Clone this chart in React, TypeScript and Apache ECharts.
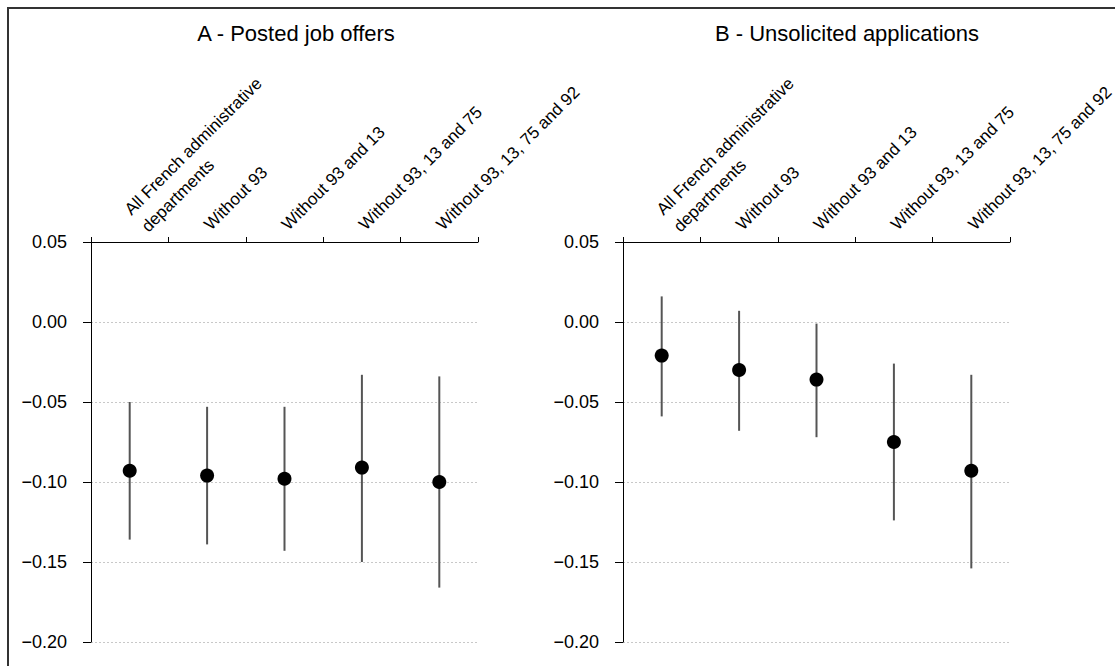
import React, { useEffect, useRef } from "react";
import * as echarts from "echarts";

const categories = [
  "All French administrative\ndepartments",
  "Without 93",
  "Without 93 and 13",
  "Without 93, 13 and 75",
  "Without 93, 13, 75 and 92",
];
const panelTitles = ["A - Posted job offers", "B - Unsolicited applications"];
const yTicks = [-0.2, -0.15, -0.1, -0.05, 0, 0.05];

const offersEst = [-0.093, -0.096, -0.098, -0.091, -0.1];
const offersLow = [-0.136, -0.139, -0.143, -0.15, -0.166];
const offersHigh = [-0.05, -0.053, -0.053, -0.033, -0.034];

const unsolEst = [-0.021, -0.03, -0.036, -0.075, -0.093];
const unsolLow = [-0.059, -0.068, -0.072, -0.124, -0.154];
const unsolHigh = [0.016, 0.007, -0.001, -0.026, -0.033];

const FONT = "'Liberation Sans', Arial, Helvetica, sans-serif";

export default function App() {
  const ref = useRef<HTMLDivElement>(null);
  useEffect(() => {
    if (!ref.current) return;
    const chart = echarts.init(ref.current, null, { renderer: "svg" });

    const gridLefts = [91, 623];
    const plotW = 387;
    const grids = gridLefts.map((l) => ({
      left: l,
      top: 242,
      width: plotW,
      height: 400,
      containLabel: false,
      outerBoundsMode: "none",
    }));

    const catData = categories.map((c) =>
      c.includes("\n")
        ? { value: c, textStyle: { padding: [6, 0, 0, 9] } }
        : { value: c }
    );

    const xAxes = grids.map((_, i) => ({
      type: "category",
      gridIndex: i,
      position: "top",
      data: catData,
      boundaryGap: true,
      axisLine: { onZero: false, lineStyle: { color: "#000", width: 1 } },
      axisTick: { show: true, length: 5, lineStyle: { color: "#000" } },
      axisLabel: {
        interval: 0,
        rotate: -45,
        margin: 15,
        color: "#000",
        fontSize: 17,
        fontFamily: FONT,
        lineHeight: 24,
      },
      splitLine: { show: false },
    }));

    const yAxes = grids.map((_, i) => ({
      type: "value",
      gridIndex: i,
      min: yTicks[0],
      max: yTicks[yTicks.length - 1],
      interval: 0.05,
      axisLine: { show: true, onZero: false, lineStyle: { color: "#000", width: 1 } },
      axisTick: { show: true, length: 8, lineStyle: { color: "#000" } },
      axisLabel: {
        margin: 24,
        color: "#000",
        fontSize: 18,
        fontFamily: FONT,
        formatter: (v: number) => {
          const s = Math.abs(v).toFixed(2);
          return v < -1e-9 ? "\u2212" + s : s;
        },
      },
      splitLine: { show: true, lineStyle: { color: "#c8c8c8", type: [2, 2], width: 1 } },
    }));

    const bars = (low: number[], high: number[]) => low.map((l, i) => [i, l, high[i]]);

    const errSeries = (idx: number, low: number[], high: number[]) => ({
      type: "custom",
      xAxisIndex: idx,
      yAxisIndex: idx,
      data: bars(low, high),
      encode: { x: 0, y: [1, 2] },
      renderItem: (params: any, api: any) => {
        const p1 = api.coord([api.value(0), api.value(1)]);
        const p2 = api.coord([api.value(0), api.value(2)]);
        return {
          type: "line",
          shape: { x1: p1[0], y1: p1[1], x2: p2[0], y2: p2[1] },
          style: { stroke: "#555", lineWidth: 2 },
        };
      },
      z: 2,
    });

    const dotSeries = (idx: number, est: number[]) => ({
      type: "scatter",
      xAxisIndex: idx,
      yAxisIndex: idx,
      data: est.map((v, i) => [i, v]),
      symbol: "circle",
      symbolSize: 14,
      itemStyle: { color: "#000", opacity: 1 },
      z: 3,
    });

    chart.setOption({
      animation: false,
      backgroundColor: "#fff",
      grid: grids,
      xAxis: xAxes,
      yAxis: yAxes,
      series: [
        errSeries(0, offersLow, offersHigh),
        dotSeries(0, offersEst),
        errSeries(1, unsolLow, unsolHigh),
        dotSeries(1, unsolEst),
      ],
      graphic: [
        {
          type: "rect",
          shape: { x: 8, y: 8, width: 1200, height: 800 },
          style: { fill: "none", stroke: "#333", lineWidth: 2 },
          silent: true,
        },
        {
          type: "text",
          x: 296,
          y: 33,
          style: {
            text: panelTitles[0],
            fontSize: 22,
            fontFamily: FONT,
            fill: "#000",
            textAlign: "center",
            textVerticalAlign: "middle",
          },
        },
        {
          type: "text",
          x: 847,
          y: 33,
          style: {
            text: panelTitles[1],
            fontSize: 22,
            fontFamily: FONT,
            fill: "#000",
            textAlign: "center",
            textVerticalAlign: "middle",
          },
        },
      ],
    });
    return () => chart.dispose();
  }, []);
  return (
    <div
      ref={ref}
      style={{ position: "absolute", left: 0, top: 0, width: 1115, height: 666 }}
    />
  );
}
